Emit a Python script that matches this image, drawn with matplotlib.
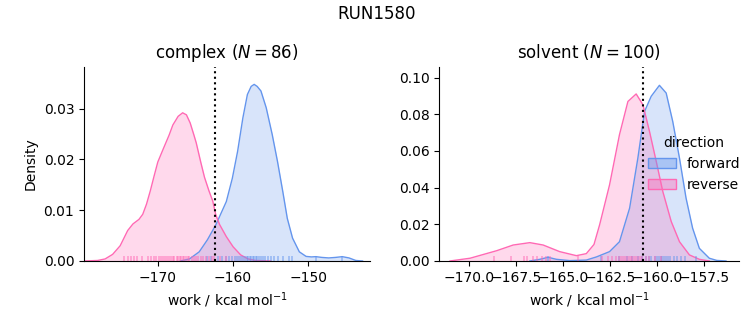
import matplotlib
matplotlib.use("Agg")
import matplotlib.pyplot as plt
import matplotlib.transforms as mtransforms
from matplotlib.colors import to_rgba
from matplotlib.patches import Patch

cx_rev_x = [-179.8, -178.0, -177.0, -176.0, -175.0, -174.5, -174.0, -173.3, -172.5, -172.0,
            -171.5, -171.0, -170.5, -170.0, -169.3, -168.5, -168.0, -167.3, -166.7, -166.2,
            -165.7, -165.2, -164.9, -164.3, -163.8, -163.2, -162.7, -162.3, -161.8, -160.9,
            -160.0, -159.0, -158.0, -157.0, -155.0]
cx_rev_y = [0.0, 0.0001, 0.0004, 0.0013, 0.0030, 0.0045, 0.0060, 0.0073, 0.0082, 0.0092,
            0.0112, 0.0138, 0.0167, 0.0195, 0.0220, 0.0248, 0.0268, 0.0285, 0.0292, 0.0288,
            0.0272, 0.0248, 0.0233, 0.0195, 0.0165, 0.0138, 0.0118, 0.0091, 0.0072, 0.0048,
            0.0028, 0.0012, 0.0004, 0.0001, 0.0]

cx_fwd_x = [-167.0, -165.8, -164.5, -163.4, -162.3, -161.6, -160.9, -160.1, -159.4, -158.7,
            -158.1, -157.6, -157.2, -156.8, -156.3, -155.6, -154.8, -154.1, -153.4, -152.8,
            -152.1, -151.2, -150.3, -149.6, -149.0, -148.2, -147.3, -146.4, -145.5, -144.6,
            -143.7, -142.8]
cx_fwd_y = [0.0, 0.0004, 0.0018, 0.0042, 0.0071, 0.0094, 0.0117, 0.0163, 0.0216, 0.0282,
            0.0328, 0.0344, 0.0348, 0.0344, 0.0335, 0.0302, 0.0249, 0.0196, 0.0137, 0.0084,
            0.0045, 0.0018, 0.0009, 0.0008, 0.00085, 0.0007, 0.0006, 0.0007, 0.00085, 0.0006,
            0.0001, 0.0]

sv_rev_x = [-171.03, -169.96, -168.54, -167.66, -166.77, -166.06, -165.18, -164.29, -163.76, -163.35,
            -163.05, -162.52, -161.99, -161.54, -161.10, -160.74, -160.39, -160.03, -159.68, -159.23,
            -158.79, -158.26, -157.73, -157.2]
sv_rev_y = [0.0, 0.0015, 0.0056, 0.0087, 0.0100, 0.0087, 0.0051, 0.0029, 0.0040, 0.0090,
            0.0197, 0.0415, 0.0689, 0.0870, 0.0911, 0.0852, 0.0707, 0.0543, 0.0379, 0.0215,
            0.0105, 0.0033, 0.0009, 0.0]

sv_fwd_x = [-166.77, -166.24, -165.8, -165.35, -164.64, -163.76, -163.22, -162.52, -161.99, -161.45,
            -161.01, -160.65, -160.30, -159.86, -159.50, -159.15, -158.79, -158.44, -158.09, -157.73,
            -157.20, -156.8, -156.31]
sv_fwd_y = [0.0, 0.0009, 0.0020, 0.0009, 0.0002, 0.0005, 0.0022, 0.0051, 0.0105, 0.0288,
            0.0561, 0.0816, 0.0898, 0.0958, 0.0916, 0.0761, 0.0561, 0.0343, 0.0179, 0.0069,
            0.0015, 0.0003, 0.0]

# individual work values shown as rug marks
cx_rev_rug = [-174.5, -174.0, -173.6, -173.2, -172.8, -172.1, -171.3, -170.9, -170.5, -170.2,
              -169.9, -169.6, -169.3, -169.0, -168.8, -168.5, -168.3, -168.0, -167.8, -167.5,
              -167.3, -167.1, -166.9, -166.7, -166.5, -166.2, -166.0, -165.8, -165.5, -165.2,
              -164.9, -164.6, -164.3, -164.0, -163.6, -163.2, -162.8, -162.5, -161.8, -161.0]
cx_fwd_rug = [-163.4, -162.9, -162.0, -161.5, -161.0, -160.6, -160.2, -159.8, -159.5, -159.2,
              -158.9, -158.7, -158.4, -158.2, -158.0, -157.8, -157.6, -157.4, -157.2, -157.0,
              -156.8, -156.6, -156.3, -156.0, -155.7, -155.4, -155.0, -154.6, -154.0, -153.4,
              -152.6, -152.2, -149.0, -145.5]
sv_rev_rug = [-168.7, -167.8, -167.1, -166.9, -166.6, -166.4, -166.1, -165.9, -165.7, -164.2,
              -162.9, -162.6, -162.4, -162.2, -162.0, -161.9, -161.8, -161.7, -161.6, -161.5,
              -161.4, -161.3, -161.2, -161.1, -161.0, -160.9, -160.8, -160.6, -160.4, -160.1,
              -159.8]
sv_fwd_rug = [-165.8, -163.0, -162.0, -161.6, -161.3, -161.0, -160.8, -160.6, -160.4, -160.3,
              -160.1, -160.0, -159.9, -159.8, -159.7, -159.6, -159.5, -159.4, -159.3, -159.1,
              -158.9, -158.7, -158.5, -157.9]

dg_complex = -162.36
dg_solvent = -160.71
titles = ['complex ($N = 86$)', 'solvent ($N = 100$)']

c_fwd = '#6495ED'
c_rev = '#FF69B4'

fig = plt.figure(figsize=(7.53, 3.25), dpi=100)
ax1 = fig.add_axes([0.1116, 0.197, 0.3799, 0.598])
ax2 = fig.add_axes([0.5834, 0.197, 0.3984, 0.598])

panels = [
    (ax1, cx_fwd_x, cx_fwd_y, cx_rev_x, cx_rev_y, cx_fwd_rug, cx_rev_rug, dg_complex),
    (ax2, sv_fwd_x, sv_fwd_y, sv_rev_x, sv_rev_y, sv_fwd_rug, sv_rev_rug, dg_solvent),
]
for i, (ax, fx, fy, rx, ry, frug, rrug, dg) in enumerate(panels):
    ax.fill_between(fx, fy, color=c_fwd, alpha=0.25, lw=0)
    ax.plot(fx, fy, color=c_fwd, lw=1, solid_joinstyle='round')
    ax.fill_between(rx, ry, color=c_rev, alpha=0.25, lw=0)
    ax.plot(rx, ry, color=c_rev, lw=1, solid_joinstyle='round')
    tr = mtransforms.blended_transform_factory(ax.transData, ax.transAxes)
    ax.vlines(frug, 0, 0.025, transform=tr, color=c_fwd, alpha=0.55, lw=1.2)
    ax.vlines(rrug, 0, 0.025, transform=tr, color=c_rev, alpha=0.55, lw=1.2)
    ax.axvline(dg, color='k', ls=':', lw=1.5)
    ax.set_title(titles[i], fontsize=12)
    ax.set_xlabel('work / kcal mol$^{-1}$')
    ax.spines['top'].set_visible(False)
    ax.spines['right'].set_visible(False)

ax1.set_xlim(-179.8, -141.8)
ax1.set_ylim(0, 0.0383)
ax1.set_xticks([-170, -160, -150])
ax1.set_yticks([0.0, 0.01, 0.02, 0.03])
ax1.set_ylabel('Density')

ax2.set_xlim(-171.6, -155.6)
ax2.set_ylim(0, 0.106)
ax2.set_xticks([-170.0, -167.5, -165.0, -162.5, -160.0, -157.5])
ax2.set_yticks([0.0, 0.02, 0.04, 0.06, 0.08, 0.10])

handles = [Patch(facecolor=to_rgba(c_fwd, 0.4), edgecolor=c_fwd, label='forward'),
           Patch(facecolor=to_rgba(c_rev, 0.4), edgecolor=c_rev, label='reverse')]
ax2.legend(handles=handles, title='direction', frameon=False,
           loc='center right', bbox_to_anchor=(1.045, 0.5))

fig.suptitle('RUN1580', fontsize=12, y=0.985)
fig.savefig('out.png', dpi=100)
